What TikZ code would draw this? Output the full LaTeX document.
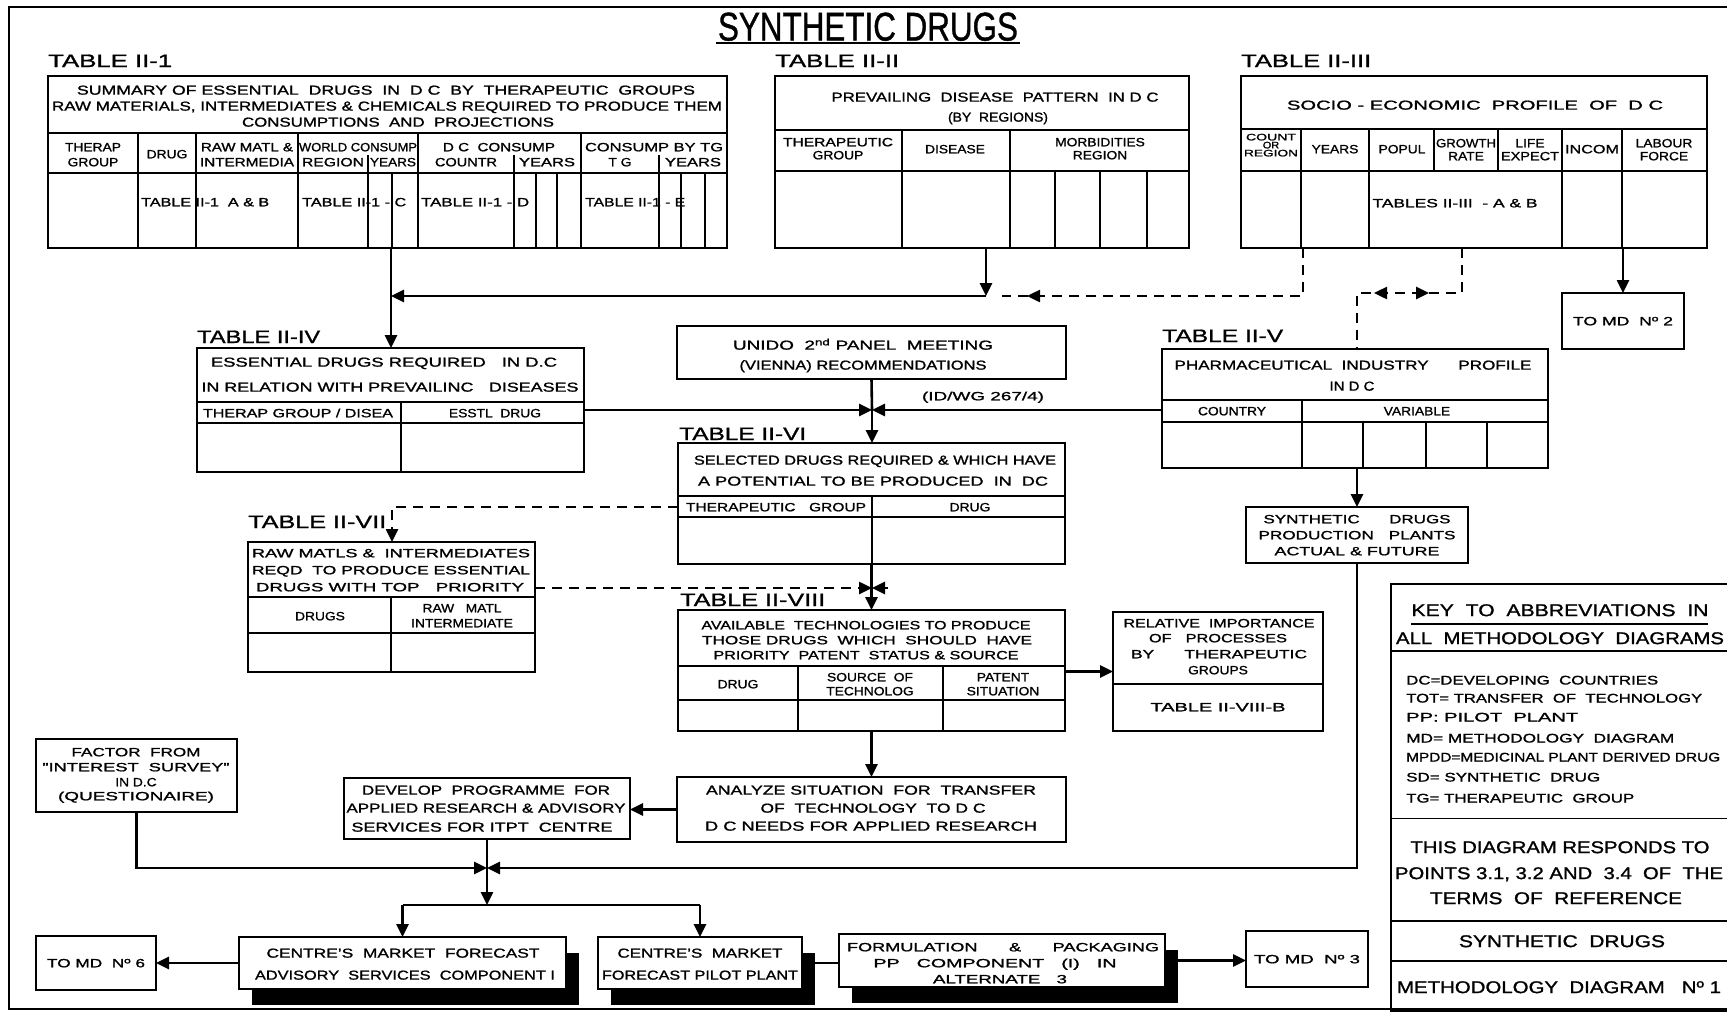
\documentclass[tikz,border=0pt]{standalone}
\usepackage{fontspec}
\usepackage{graphicx}
\setmainfont[FakeStretch=1.15,FakeBold=1.2]{Liberation Sans}
\usetikzlibrary{arrows.meta,decorations.markings}

% stretch a line of lettering to a given width (in pt), keeping its height
\newcommand\fw[2]{\resizebox{#1pt}{\height}{#2}}
% table / box frame: x1, y1, x2, y2 (y grows downwards), name
\newcommand\mkbox[6][]{\node[tbox,#1,minimum width={(#4-#2)*1pt},minimum height={(#5-#3)*1pt}] (#6) at (#2,#3) {};}

\tikzset{
  tbox/.style={draw,line width=2.6pt,inner sep=0pt,outer sep=0pt,anchor=north west,fill=white},
  gridline/.style={line width=1.1pt},
  conn/.style={line width=2.6pt},
  dashconn/.style={line width=2.5pt,dash pattern=on 10pt off 7pt},
  tip/.style={-{Triangle[length=13pt,width=12pt]}},
  marrow/.style={postaction={decorate,decoration={markings,
      mark=at position #1 with {\arrow{Triangle[length=13pt,width=12pt]}}}}},
  rmarrow/.style={postaction={decorate,decoration={markings,
      mark=at position #1 with {\arrowreversed{Triangle[length=13pt,width=12pt]}}}}},
  t/.style={inner sep=0pt,font=\fontsize{13}{13}\selectfont,text height=9.3pt,text depth=0pt},
  th/.style={inner sep=0pt,font=\fontsize{12}{12}\selectfont,text height=8.6pt,text depth=0pt},
  ts/.style={inner sep=0pt,font=\fontsize{9.5}{9.5}\selectfont,text height=6.8pt,text depth=0pt},
  lbl/.style={inner sep=0pt,anchor=base west,font=\fontsize{18}{18}\selectfont},
  keyt/.style={inner sep=0pt,font=\fontsize{17}{17}\selectfont,text height=12.2pt,text depth=0pt},
  abbr/.style={inner sep=0pt,anchor=west,font=\fontsize{12.5}{12.5}\selectfont,text height=9pt,text depth=0pt},
  shadowbox/.style={fill=black},
}

\begin{document}
\begin{tikzpicture}[x=1pt,y=-1pt]
\useasboundingbox (0,0) rectangle (1727,1012);
\fill[white] (0,0) rectangle (1727,1012);

% sheet frame
\draw[line width=2pt] (1745,7) -- (9,7) -- (9,1009) -- (1745,1009);

% heading
\node[inner sep=0pt,font=\fontsize{40}{40}\selectfont,text height=29pt,text depth=0pt] (title) at (868,26) {\fw{300}{SYNTHETIC\ DRUGS}};
\draw[line width=2.5pt] (716,43) -- (1020,43);

% ---------------- TABLE II-1
\node[lbl] (l1) at (48,67) {\fw{124}{TABLE II-1}};
\mkbox{48}{76}{727}{248}{t1}
\node[t] at (386,90) {\fw{618}{SUMMARY OF ESSENTIAL\ \ DRUGS\ \ IN\ \ D C\ \ BY\ \ THERAPEUTIC\ \ GROUPS}};
\node[t] at (387,106) {\fw{670}{RAW MATERIALS, INTERMEDIATES \& CHEMICALS REQUIRED TO PRODUCE THEM}};
\node[t] at (398,122) {\fw{312}{CONSUMPTIONS\ \ AND\ \ PROJECTIONS}};
\draw[gridline] (48,133) -- (727,133);
\draw[gridline] (48,173) -- (727,173);
\foreach \x in {138,196,298,418,581} \draw[gridline] (\x,133) -- (\x,248);
\foreach \x in {368,514,659} \draw[gridline] (\x,155) -- (\x,248);
\foreach \x in {392,536,557,681,705} \draw[gridline] (\x,173) -- (\x,248);
\node[th] at (93,147) {THERAP};
\node[th] at (93,162) {GROUP};
\node[th] at (167,154) {DRUG};
\node[th] at (247,147) {\fw{92}{RAW MATL \&}};
\node[th] at (247,162) {\fw{94}{INTERMEDIA}};
\node[th] at (358,147) {\fw{118}{WORLD CONSUMP}};
\node[th] at (333,162) {\fw{62}{REGION}};
\node[th] at (393,162) {\fw{46}{YEARS}};
\node[th] at (499,147) {\fw{112}{D C\ \ CONSUMP}};
\node[th] at (466,162) {\fw{62}{COUNTR}};
\node[th] at (547,162) {\fw{56}{YEARS}};
\node[th] at (654,147) {\fw{138}{CONSUMP BY TG}};
\node[th] at (620,162) {T G};
\node[th] at (693,162) {\fw{56}{YEARS}};
\node[th,anchor=west] at (141,202) {\fw{128}{TABLE II-1\ \ A \& B}};
\node[th,anchor=west] at (302,202) {\fw{104}{TABLE II-1 - C}};
\node[th,anchor=west] at (421,202) {\fw{108}{TABLE II-1 - D}};
\node[th,anchor=west] at (585,202) {\fw{100}{TABLE II-1 - E}};

% ---------------- TABLE II-II
\node[lbl] (l2) at (775,67) {\fw{124}{TABLE II-II}};
\mkbox{775}{76}{1189}{248}{t2}
\node[t] at (995,97) {\fw{327}{PREVAILING\ \ DISEASE\ \ PATTERN\ \ IN D C}};
\node[t] at (998,117) {\fw{100}{(BY\ \ REGIONS)}};
\draw[gridline] (775,130) -- (1189,130);
\draw[gridline] (775,171) -- (1189,171);
\foreach \x in {902,1010} \draw[gridline] (\x,130) -- (\x,248);
\foreach \x in {1055,1100,1147} \draw[gridline] (\x,171) -- (\x,248);
\node[th] at (838,142) {\fw{110}{THERAPEUTIC}};
\node[th] at (838,155) {GROUP};
\node[th] at (955,149) {DISEASE};
\node[th] at (1100,142) {MORBIDITIES};
\node[th] at (1100,155) {REGION};

% ---------------- TABLE II-III
\node[lbl] (l3) at (1241,67) {\fw{130}{TABLE II-III}};
\mkbox{1241}{76}{1707}{248}{t3}
\node[t] at (1475,105) {\fw{376}{SOCIO - ECONOMIC\ \ PROFILE\ \ OF\ \ D C}};
\draw[gridline] (1241,129) -- (1707,129);
\draw[gridline] (1241,171) -- (1707,171);
\foreach \x in {1301,1369,1562,1622} \draw[gridline] (\x,129) -- (\x,248);
\foreach \x in {1434,1498} \draw[gridline] (\x,129) -- (\x,171);
\node[ts] at (1271,137) {\fw{50}{COUNT}};
\node[ts] at (1271,145) {OR};
\node[ts] at (1271,153) {\fw{54}{REGION}};
\node[th] at (1335,149) {YEARS};
\node[th] at (1402,149) {POPUL};
\node[th] at (1466,143) {\fw{60}{GROWTH}};
\node[th] at (1466,156) {RATE};
\node[th] at (1530,143) {LIFE};
\node[th] at (1530,156) {\fw{58}{EXPECT}};
\node[th] at (1592,149) {\fw{54}{INCOM}};
\node[th] at (1664,143) {LABOUR};
\node[th] at (1664,156) {FORCE};
\node[th] at (1455,203) {\fw{165}{TABLES II-III\ \ - A \& B}};

% ---------------- TO MD 2
\mkbox{1562}{293}{1684}{349}{tomd2}
\node[th] at (tomd2.center) {\fw{100}{TO MD\ \ Nº 2}};

% ---------------- TABLE II-IV
\node[lbl] (l4) at (197,343) {\fw{123}{TABLE II-IV}};
\mkbox{197}{348}{584}{472}{t4}
\node[t] at (384,362) {\fw{346}{ESSENTIAL DRUGS REQUIRED\quad IN D.C}};
\node[t] at (390,387) {\fw{377}{IN RELATION WITH PREVAILINC\quad DISEASES}};
\draw[gridline] (197,402) -- (584,402);
\draw[gridline] (197,423) -- (584,423);
\draw[gridline] (401,402) -- (401,472);
\node[th] at (298,413) {\fw{190}{THERAP GROUP / DISEA}};
\node[th] at (495,413) {ESSTL\ \ DRUG};

% ---------------- UNIDO panel
\mkbox{677}{326}{1066}{379}{unido}
\node[t] at (863,345) {\fw{260}{UNIDO\ \ 2\textsuperscript{nd} PANEL\ \ MEETING}};
\node[t] at (863,365) {\fw{247}{(VIENNA) RECOMMENDATIONS}};
\node[th] (idwg) at (983,396) {\fw{122}{(ID/WG 267/4)}};

% ---------------- TABLE II-V
\node[lbl] (l5) at (1162,342) {\fw{121}{TABLE II-V}};
\mkbox{1162}{349}{1548}{468}{t5}
\node[t] at (1353,365) {\fw{357}{PHARMACEUTICAL\ \ INDUSTRY\qquad PROFILE}};
\node[t] at (1352,386) {IN D C};
\draw[gridline] (1162,400) -- (1548,400);
\draw[gridline] (1162,422) -- (1548,422);
\draw[gridline] (1302,400) -- (1302,468);
\foreach \x in {1363,1426,1487} \draw[gridline] (\x,422) -- (\x,468);
\node[th] at (1232,411) {COUNTRY};
\node[th] at (1417,411) {VARIABLE};

% ---------------- production plants
\mkbox{1246}{507}{1468}{563}{plants}
\node[th] at (1357,519) {\fw{187}{SYNTHETIC\qquad DRUGS}};
\node[th] at (1357,535) {\fw{197}{PRODUCTION\quad PLANTS}};
\node[th] at (1357,551) {\fw{165}{ACTUAL \& FUTURE}};

% ---------------- TABLE II-VI
\node[lbl] (l6) at (679,440) {\fw{127}{TABLE II-VI}};
\mkbox{678}{443}{1065}{564}{t6}
\node[t] at (875,460) {\fw{362}{SELECTED DRUGS REQUIRED \& WHICH HAVE}};
\node[t] at (873,481) {\fw{350}{A POTENTIAL TO BE PRODUCED\ \ IN\ \ DC}};
\draw[gridline] (678,496) -- (1065,496);
\draw[gridline] (678,517) -- (1065,517);
\draw[gridline] (872,496) -- (872,564);
\node[th] at (776,507) {\fw{180}{THERAPEUTIC\quad GROUP}};
\node[th] at (970,507) {DRUG};

% ---------------- TABLE II-VII
\node[lbl] (l7) at (248,528) {\fw{138}{TABLE II-VII}};
\mkbox{248}{542}{535}{672}{t7}
\node[th] at (391,553) {\fw{278}{RAW MATLS \&\ \ INTERMEDIATES}};
\node[th] at (391,570) {\fw{278}{REQD\ \ TO PRODUCE ESSENTIAL}};
\node[th] at (390,587) {\fw{268}{DRUGS WITH TOP\quad PRIORITY}};
\draw[gridline] (248,597) -- (535,597);
\draw[gridline] (248,633) -- (535,633);
\draw[gridline] (391,597) -- (391,672);
\node[th] at (320,616) {DRUGS};
\node[th] at (462,608) {RAW\ \ \ MATL};
\node[th] at (462,623) {INTERMEDIATE};

% ---------------- TABLE II-VIII
\node[lbl] (l8) at (680,606) {\fw{145}{TABLE II-VIII}};
\mkbox{678}{610}{1065}{731}{t8}
\node[th] at (866,625) {\fw{329}{AVAILABLE\ \ TECHNOLOGIES TO PRODUCE}};
\node[th] at (867,640) {\fw{330}{THOSE DRUGS\ \ WHICH\ \ SHOULD\ \ HAVE}};
\node[th] at (866,655) {\fw{305}{PRIORITY\ \ PATENT\ \ STATUS \& SOURCE}};
\draw[gridline] (678,666) -- (1065,666);
\draw[gridline] (678,700) -- (1065,700);
\foreach \x in {798,943} \draw[gridline] (\x,666) -- (\x,731);
\node[th] at (738,684) {DRUG};
\node[th] at (870,677) {SOURCE\ \ OF};
\node[th] at (870,691) {TECHNOLOG};
\node[th] at (1003,677) {PATENT};
\node[th] at (1003,691) {SITUATION};

% ---------------- relative importance
\mkbox{1113}{612}{1323}{731}{rel}
\node[th] at (1219,623) {\fw{191}{RELATIVE\ \ IMPORTANCE}};
\node[th] at (1218,638) {\fw{138}{OF\quad PROCESSES}};
\node[th] at (1219,654) {\fw{176}{BY\qquad THERAPEUTIC}};
\node[th] at (1218,670) {GROUPS};
\draw[gridline] (1113,684) -- (1323,684);
\node[th] at (1218,707) {\fw{135}{TABLE II-VIII-B}};

% ---------------- analysis / programme / survey
\mkbox{677}{777}{1066}{842}{analyze}
\node[t] at (871,790) {\fw{330}{ANALYZE SITUATION\ \ FOR\ \ TRANSFER}};
\node[t] at (873,808) {\fw{225}{OF\ \ TECHNOLOGY\ \ TO D C}};
\node[t] at (871,826) {\fw{332}{D C NEEDS FOR APPLIED RESEARCH}};

\mkbox{344}{778}{630}{839}{develop}
\node[t] at (486,790) {\fw{248}{DEVELOP\ \ PROGRAMME\ \ FOR}};
\node[t] at (486,808) {\fw{279}{APPLIED RESEARCH \& ADVISORY}};
\node[t] at (482,827) {\fw{261}{SERVICES FOR ITPT\ \ CENTRE}};

\mkbox{36}{739}{237}{812}{factor}
\node[th] at (136,752) {\fw{129}{FACTOR\ \ FROM}};
\node[th] at (136,767) {\fw{187}{"INTEREST\ \ SURVEY"}};
\node[th] at (136,782) {IN D.C};
\node[th] at (136,796) {\fw{156}{(QUESTIONAIRE)}};

% ---------------- bottom row
\fill[shadowbox] (252,953) rectangle (579,1005);
\fill[shadowbox] (611,953) rectangle (815,1005);
\fill[shadowbox] (852,950) rectangle (1178,1003);

\mkbox{36}{936}{156}{990}{tomd6}
\node[th] at (tomd6.center) {\fw{98}{TO MD\ \ Nº 6}};

\mkbox{239}{937}{566}{989}{cen1}
\node[t] at (403,953) {\fw{273}{CENTRE'S\ \ MARKET\ \ FORECAST}};
\node[t] at (405,975) {\fw{300}{ADVISORY\ \ SERVICES\ \ COMPONENT I}};

\mkbox{598}{937}{802}{989}{cen2}
\node[t] at (700,953) {\fw{165}{CENTRE'S\ \ MARKET}};
\node[t] at (700,975) {\fw{196}{FORECAST PILOT PLANT}};

\mkbox{839}{934}{1165}{987}{form}
\node[th] at (1003,947) {\fw{312}{FORMULATION\qquad \&\qquad PACKAGING}};
\node[th] at (995,963) {\fw{243}{PP\quad COMPONENT\quad (I)\quad IN}};
\node[th] at (1000,979) {\fw{134}{ALTERNATE\quad 3}};

\mkbox{1246}{931}{1368}{987}{tomd3}
\node[th] at (tomd3.center) {\fw{106}{TO MD\ \ Nº 3}};

% ---------------- key panel
\node[draw,line width=2.2pt,inner sep=0pt,anchor=north west,minimum width=360pt,minimum height=427pt] (key) at (1390,583) {};
\node[keyt] at (1560,610) {\fw{297}{KEY\ \ TO\ \ ABBREVIATIONS\ \ IN}};
\draw[line width=1.2pt] (1411,624) -- (1708,624);
\node[keyt] at (1560,638) {\fw{328}{ALL\ \ METHODOLOGY\ \ DIAGRAMS}};
\draw[line width=1.5pt] (1390,651) -- (1745,651);
\node[abbr] at (1406,680) {\fw{252}{DC=DEVELOPING\ \ COUNTRIES}};
\node[abbr] at (1406,698) {\fw{296}{TOT= TRANSFER\ \ OF\ \ TECHNOLOGY}};
\node[abbr] at (1406,717) {\fw{172}{PP: PILOT\ \ PLANT}};
\node[abbr] at (1406,738) {\fw{268}{MD= METHODOLOGY\ \ DIAGRAM}};
\node[abbr] at (1406,757) {\fw{314}{MPDD=MEDICINAL PLANT DERIVED DRUG}};
\node[abbr] at (1406,777) {\fw{194}{SD= SYNTHETIC\ \ DRUG}};
\node[abbr] at (1406,798) {\fw{228}{TG= THERAPEUTIC\ \ GROUP}};
\draw[line width=1pt] (1390,818) -- (1745,818);
\node[keyt] at (1560,847) {\fw{299}{THIS DIAGRAM RESPONDS TO}};
\node[keyt] at (1559,873) {\fw{328}{POINTS 3.1, 3.2 AND\ \ 3.4\ \ OF\ \ THE}};
\node[keyt] at (1556,898) {\fw{252}{TERMS\ \ OF\ \ REFERENCE}};
\draw[line width=2.6pt] (1390,921) -- (1745,921);
\node[keyt] at (1562,941) {\fw{206}{SYNTHETIC\ \ DRUGS}};
\draw[line width=2.6pt] (1390,961) -- (1745,961);
\node[keyt] at (1559,987) {\fw{324}{METHODOLOGY\ \ DIAGRAM\ \ \ Nº 1}};

% ---------------- connectors
\coordinate (j1) at (391,296);
\coordinate (j1b) at (986,296);
\coordinate (d1) at (1303,296);
\coordinate (d0) at (1002,296);
\coordinate (e1) at (1462,293);
\coordinate (e2) at (1357,293);
\coordinate (j2) at (872,410);
\coordinate (j3) at (872,588);
\coordinate (j4) at (392,507);
\coordinate (c1) at (1357,868);
\coordinate (c2) at (136.5,868);
\coordinate (j5) at (487,868);
\coordinate (j6) at (487,905);
\coordinate (b1) at (402.5,905);
\coordinate (b2) at (700,905);

% tables II-1, II-II, II-III into the collecting line and on to II-IV
\draw[conn,tip] (t1.south -| j1) -- (t4.north -| j1);
\draw[conn,tip] (t2.south -| j1b) -- (j1b);
\draw[conn,tip] (j1b) -- (j1);
\draw[dashconn,marrow=324pt] (t3.south -| d1) -- (d1) -- (d0);
\draw[dashconn,marrow=133pt,rmarrow=78pt] (t3.south -| e1) -- (e1) -- (e2) -- (t5.north -| e2);
\draw[conn,tip] (t3.south -| tomd2.north) -- (tomd2.north);

% II-IV, UNIDO and II-V into II-VI
\draw[conn,tip] (t4.east |- j2) -- (j2);
\draw[conn,tip] (t5.west |- j2) -- (j2);
\draw[conn] (unido.south) -- (j2);
\draw[conn,tip] (j2) -- (t6.north -| j2);

% II-VI to II-VII and II-VIII
\draw[dashconn,tip] (t6.west |- j4) -- (j4) -- (t7.north -| j4);
\draw[conn,tip] (t6.south) -- (t8.north);
\draw[dashconn,tip] (t7.east |- j3) -- (j3);
\draw[conn,-{Triangle[length=13pt,width=12pt]}] ([xshift=16pt]j3) -- (j3);

% II-V to plants, II-VIII onwards
\draw[conn,tip] (t5.south -| plants.north) -- (plants.north);
\draw[conn,tip] (t8.east |- rel.west) -- (rel.west);
\draw[conn,tip] (t8.south) -- (analyze.north);
\draw[conn,tip] (analyze.west) -- (develop.east |- analyze.west);

% collecting line at the bottom
\draw[conn,tip] (plants.south) -- (c1) -- (j5);
\draw[conn,tip] (factor.south) -- (c2) -- (j5);
\draw[conn] (develop.south) -- (j5);
\draw[conn,tip] (j5) -- (j6);
\draw[conn] (b1) -- (b2);
\draw[conn,tip] (b1) -- (cen1.north);
\draw[conn,tip] (b2) -- (cen2.north);
\draw[conn,tip] (cen1.west) -- (tomd6.east |- cen1.west);
\draw[conn] (cen2.east) -- (form.west |- cen2.east);
\draw[conn,tip] (form.east) -- (tomd3.west |- form.east);
\end{tikzpicture}
\end{document}
